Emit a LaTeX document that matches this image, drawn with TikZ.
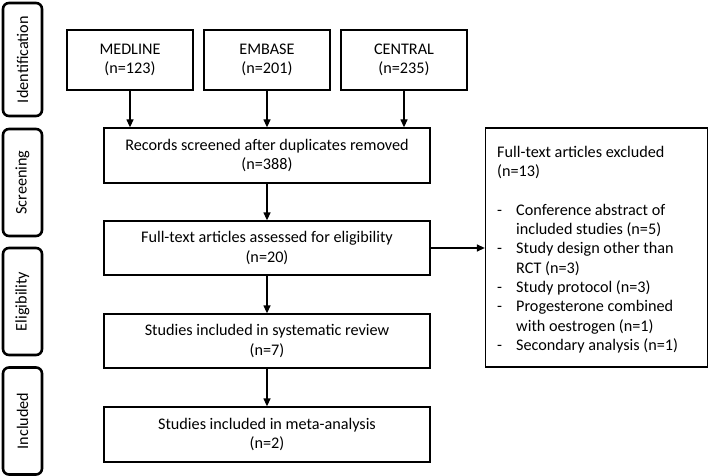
\documentclass[tikz,border=0pt]{standalone}
\usepackage{fontspec}
\setmainfont{Carlito}
\usetikzlibrary{arrows.meta}
\begin{document}
\begin{tikzpicture}[x=1pt,y=-1pt,
  box/.style={draw, line width=1.3pt, align=center, inner sep=0pt, font=\fontsize{16.2}{19.5}\selectfont},
  phase/.style={draw, line width=2.6pt, rounded corners=6pt, minimum width=39pt, inner sep=0pt},
  plabel/.style={rotate=90, font=\fontsize{16.2}{19.5}\selectfont},
  arr/.style={line width=1.3pt, -{Triangle[length=8pt,width=7pt]}}]
\useasboundingbox (0,0) rectangle (709,476);
% phase boxes
\node[phase, minimum height=113pt] (pid) at (22.5,59.5) {};
\node[plabel] (tid) at (pid.center) {Identification};
\node[phase, minimum height=107pt] (psc) at (22.5,182.5) {};
\node[plabel] (tsc) at (psc.center) {Screening};
\node[phase, minimum height=107pt] (pel) at (22.5,301.5) {};
\node[plabel] (tel) at (pel.center) {Eligibility};
\node[phase, minimum height=107pt] (pin) at (22.5,421) {};
\node[plabel] (tin) at (pin.center) {Included};
% sources
\node[box, minimum width=126pt, minimum height=60pt] (med) at (130,60) {MEDLINE\\(n=123)};
\node[box, minimum width=126pt, minimum height=60pt] (emb) at (267,60) {EMBASE\\(n=201)};
\node[box, minimum width=126pt, minimum height=60pt] (cen) at (404,60) {CENTRAL\\(n=235)};
% main flow
\node[box, minimum width=326pt, minimum height=55pt] (rec) at (267,155.5) {Records screened after duplicates removed\\(n=388)};
\node[box, minimum width=326pt, minimum height=54pt] (ful) at (267,248) {Full-text articles assessed for eligibility\\(n=20)};
\node[box, minimum width=326pt, minimum height=54pt] (sys) at (267,341) {Studies included in systematic review\\(n=7)};
\node[box, minimum width=326pt, minimum height=55pt] (met) at (267,434.5) {Studies included in meta-analysis\\(n=2)};
% excluded
\node[draw, line width=1.3pt, minimum width=222pt, minimum height=239pt, inner sep=0pt] (exc) at (596.5,247.5) {};
\node[anchor=north west, inner sep=0pt, align=left, font=\fontsize{16.2}{19.3}\selectfont] (exct) at (497,146)
{Full-text articles excluded\\(n=13)\\[19.3pt]
\makebox[19pt][l]{-}Conference abstract of\\
\hspace*{19pt}included studies (n=5)\\
\makebox[19pt][l]{-}Study design other than\\
\hspace*{19pt}RCT (n=3)\\
\makebox[19pt][l]{-}Study protocol (n=3)\\
\makebox[19pt][l]{-}Progesterone combined\\
\hspace*{19pt}with oestrogen (n=1)\\
\makebox[19pt][l]{-}Secondary analysis (n=1)};
% arrows
\draw[arr] (med.south) -- (med.south |- rec.north);
\draw[arr] (emb.south) -- (emb.south |- rec.north);
\draw[arr] (cen.south) -- (cen.south |- rec.north);
\draw[arr] (rec) -- (ful);
\draw[arr] (ful) -- (sys);
\draw[arr] (sys) -- (met);
\draw[arr] (ful.east) -- (exc.west |- ful.east);
\end{tikzpicture}
\end{document}
